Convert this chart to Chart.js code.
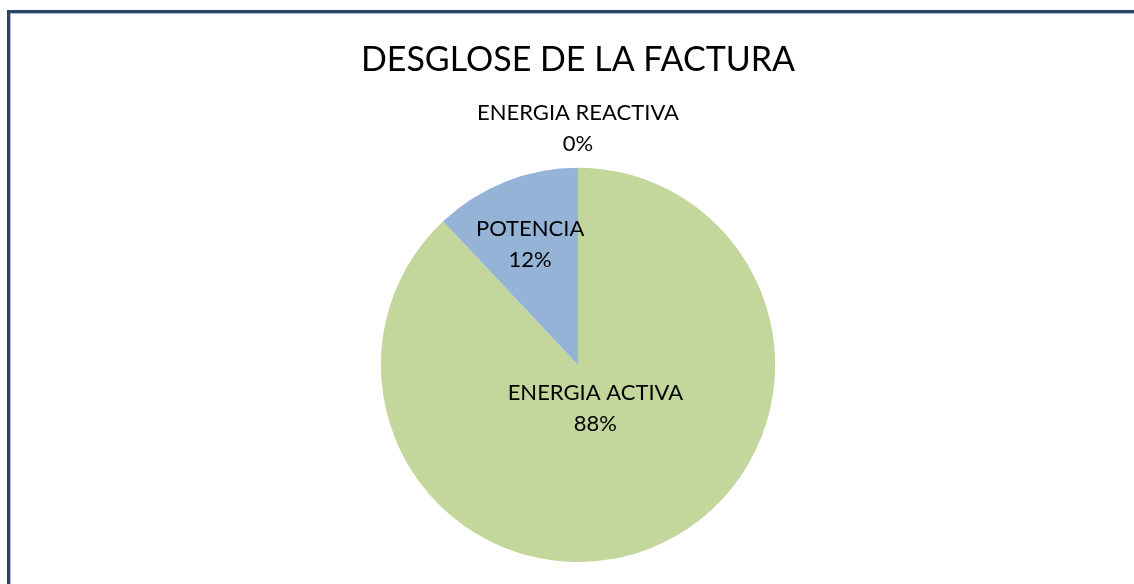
<!DOCTYPE html>
<html>
<head>
<meta charset="utf-8">
<script src="https://cdn.jsdelivr.net/npm/chart.js@4/dist/chart.umd.min.js"></script>
<style>
    html, body { margin: 0; padding: 0; background: #fff; }
    .wrap { position: relative; width: 1134px; height: 584px; overflow: hidden; }
    .frame {
        position: absolute; left: 7px; top: 10px; width: 1200px; height: 700px;
        border-top: 3px solid #2a4468; border-left: 3px solid #2a4468;
        box-shadow: inset 1px 1px 0 #a9b8cc;
    }
    canvas { position: absolute; left: 0; top: 0; }
</style>
</head>
<body>
<div class="wrap">
    <div class="frame"></div>
    <canvas id="pieChart" width="1134" height="584"></canvas>
</div>
<script>
// Data
const categories = ['ENERGIA ACTIVA', 'POTENCIA', 'ENERGIA REACTIVA'];
const values = [88, 12, 0];
const sliceColors = ['#c3d69b', '#95b3d7', '#d99694'];

// label distance from centre, as a share of the radius
const labelDist = [0.24, 0.66, 1.2];

const fontFamily = 'Lato, "Open Sans", sans-serif';

// Draws the Excel-style labels: name on first line, percent below
const sliceLabels = {
    id: 'sliceLabels',
    afterDatasetsDraw(chart) {
        const ctx = chart.ctx;
        const arcs = chart.getDatasetMeta(0).data;
        const total = values.reduce((a, b) => a + b, 0);
        ctx.save();
        ctx.fillStyle = '#000';
        ctx.font = '22px ' + fontFamily;
        ctx.textAlign = 'center';
        ctx.textBaseline = 'middle';
        arcs.forEach((arc, i) => {
            const p = arc.getProps(['x', 'y', 'startAngle', 'endAngle', 'outerRadius'], true);
            const mid = (p.startAngle + p.endAngle) / 2;
            const r = p.outerRadius * labelDist[i];
            const x = p.x + Math.cos(mid) * r;
            const y = p.y + Math.sin(mid) * r;
            const pct = Math.round(values[i] / total * 100) + '%';
            ctx.fillText(categories[i], x, y - 15.5);
            ctx.fillText(pct, x, y + 15.5);
        });
        ctx.restore();
    }
};

const pieCtx = document.getElementById('pieChart').getContext('2d');
const pieChart = new Chart(pieCtx, {
    type: 'pie',
    data: {
        labels: categories,
        datasets: [{
            data: values,
            backgroundColor: sliceColors,
            borderWidth: 0
        }]
    },
    options: {
        responsive: false,
        animation: false,
        layout: {
            padding: { left: 22, right: 0, top: 0, bottom: 22 }
        },
        plugins: {
            legend: { display: false },
            tooltip: { enabled: false },
            title: {
                display: true,
                text: 'DESGLOSE DE LA FACTURA',
                color: '#000',
                font: { family: fontFamily, size: 34, weight: 'normal' },
                padding: { top: 40, bottom: 87 }
            }
        }
    },
    plugins: [sliceLabels]
});
</script>
</body>
</html>
